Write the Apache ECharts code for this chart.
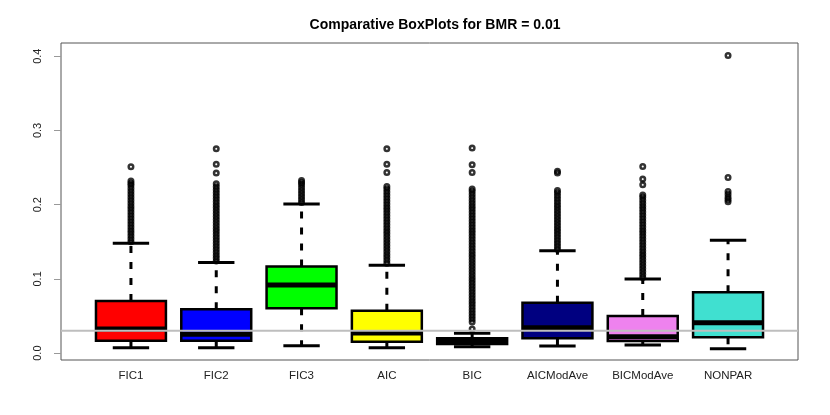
<!DOCTYPE html>
<html>
<head>
<meta charset="utf-8">
<script src="https://cdn.jsdelivr.net/npm/echarts@6/dist/echarts.min.js"></script>
<style>
  html, body { margin: 0; padding: 0; background: #fff; }
  #chart { width: 830px; height: 415px; }
</style>
</head>
<body>
<div id="chart"></div>
<script>
const categories = ['FIC1', 'FIC2', 'FIC3', 'AIC', 'BIC', 'AICModAve', 'BICModAve', 'NONPAR']
const whiskerLow = [0.0073, 0.0073, 0.010, 0.0073, 0.0086, 0.0096, 0.011, 0.006]
const q1 = [0.0168, 0.0168, 0.0604, 0.0154, 0.0123, 0.020, 0.0163, 0.0213]
const median = [0.0323, 0.0255, 0.0918, 0.0272, 0.016, 0.0343, 0.022, 0.041]
const q3 = [0.0703, 0.059, 0.1166, 0.0572, 0.020, 0.068, 0.050, 0.082]
const whiskerHigh = [0.148, 0.122, 0.201, 0.1184, 0.0267, 0.138, 0.100, 0.152]
const outliers = [
  [0.150, 0.154, 0.158, 0.162, 0.166, 0.170, 0.174, 0.178, 0.182, 0.186, 0.190, 0.194, 0.198, 0.202, 0.206, 0.210, 0.214, 0.218, 0.222, 0.226, 0.229, 0.232, 0.251],
  [0.124, 0.128, 0.132, 0.136, 0.140, 0.144, 0.148, 0.152, 0.156, 0.160, 0.164, 0.168, 0.172, 0.176, 0.180, 0.184, 0.188, 0.192, 0.196, 0.200, 0.204, 0.208, 0.212, 0.216, 0.220, 0.224, 0.228, 0.2425, 0.2545, 0.2752],
  [0.203, 0.207, 0.211, 0.215, 0.219, 0.223, 0.227, 0.230, 0.2325],
  [0.121, 0.125, 0.129, 0.133, 0.137, 0.141, 0.145, 0.149, 0.153, 0.157, 0.161, 0.165, 0.169, 0.173, 0.177, 0.181, 0.185, 0.189, 0.193, 0.197, 0.201, 0.205, 0.209, 0.213, 0.217, 0.221, 0.2244, 0.2433, 0.2546, 0.2752],
  [0.0325, 0.042, 0.046, 0.050, 0.054, 0.058, 0.062, 0.066, 0.070, 0.074, 0.078, 0.082, 0.086, 0.090, 0.094, 0.098, 0.102, 0.106, 0.110, 0.114, 0.118, 0.122, 0.126, 0.130, 0.134, 0.138, 0.142, 0.146, 0.150, 0.154, 0.158, 0.162, 0.166, 0.170, 0.174, 0.178, 0.182, 0.186, 0.190, 0.194, 0.198, 0.202, 0.206, 0.210, 0.214, 0.218, 0.221, 0.2433, 0.2537, 0.2762],
  [0.140, 0.144, 0.148, 0.152, 0.156, 0.160, 0.164, 0.168, 0.172, 0.176, 0.180, 0.184, 0.188, 0.192, 0.196, 0.200, 0.204, 0.208, 0.212, 0.216, 0.219, 0.2425, 0.245],
  [0.102, 0.106, 0.110, 0.114, 0.118, 0.122, 0.126, 0.130, 0.134, 0.138, 0.142, 0.146, 0.150, 0.154, 0.158, 0.162, 0.166, 0.170, 0.174, 0.178, 0.182, 0.186, 0.190, 0.194, 0.198, 0.202, 0.206, 0.210, 0.213, 0.2267, 0.2344, 0.2514],
  [0.204, 0.207, 0.210, 0.214, 0.2177, 0.2366, 0.401]
]
const refLevel = 0.03
const yTicks = [0, 0.1, 0.2, 0.3, 0.4]

const boxColors = ['#ff0000', '#0000ff', '#00ff00', '#ffff00', '#000000', '#000080', '#ee82ee', '#40e0d0']
const yMin = -0.0093, yMax = 0.4178
const font = 'Liberation Sans, Arial, sans-serif'

const boxData = categories.map((c, i) => [i, whiskerLow[i], q1[i], median[i], q3[i], whiskerHigh[i]])
const outlierData = []
outliers.forEach((list, i) => list.forEach(v => outlierData.push([i, v])))

function renderBox(params, api) {
  const i = api.value(0)
  const lo = api.coord([i, api.value(1)])
  const b = api.coord([i, api.value(2)])
  const m = api.coord([i, api.value(3)])
  const t = api.coord([i, api.value(4)])
  const hi = api.coord([i, api.value(5)])
  const half = api.size([1, 0])[0] * 0.41
  const cap = half * 0.52
  const cx = m[0]
  const dash = { stroke: '#000', lineWidth: 3, lineDash: [7, 9] }
  const solid = { stroke: '#000', lineWidth: 3 }
  return {
    type: 'group',
    children: [
      { type: 'line', shape: { x1: cx, y1: t[1], x2: cx, y2: hi[1] }, style: dash },
      { type: 'line', shape: { x1: cx, y1: b[1], x2: cx, y2: lo[1] }, style: dash },
      { type: 'line', shape: { x1: cx - cap, y1: hi[1], x2: cx + cap, y2: hi[1] }, style: solid },
      { type: 'line', shape: { x1: cx - cap, y1: lo[1], x2: cx + cap, y2: lo[1] }, style: solid },
      { type: 'rect', shape: { x: cx - half, y: t[1], width: half * 2, height: b[1] - t[1] },
        style: { fill: boxColors[params.dataIndex], stroke: '#000', lineWidth: 2.5 } },
      { type: 'line', shape: { x1: cx - half, y1: m[1], x2: cx + half, y2: m[1] }, style: { stroke: '#000', lineWidth: 5 } }
    ]
  }
}

const chart = echarts.init(document.getElementById('chart'))
chart.setOption({
  animation: false,
  backgroundColor: '#fff',
  title: {
    text: 'Comparative BoxPlots for BMR = 0.01',
    left: 430, top: 13, textAlign: 'center',
    textStyle: { fontFamily: font, fontSize: 14, fontWeight: 'bold', color: '#000' }
  },
  grid: [
    { left: 88.3, right: 59.3, top: 43, bottom: 55 },
    { left: 61, right: 32, top: 43, bottom: 55, show: true, borderColor: '#555', borderWidth: 1, backgroundColor: 'transparent' }
  ],
  xAxis: [
    {
      type: 'category', data: categories, gridIndex: 0,
      axisLine: { show: false },
      axisTick: { alignWithLabel: true, length: 5, lineStyle: { color: '#888' } },
      axisLabel: { fontFamily: font, fontSize: 11.5, color: '#222', margin: 10 },
      splitLine: { show: false }
    },
    { type: 'value', gridIndex: 1, min: 0, max: 1, show: false }
  ],
  yAxis: [
    { type: 'value', gridIndex: 0, min: yMin, max: yMax, show: false },
    {
      type: 'value', gridIndex: 1, min: yMin, max: yMax,
      axisLine: { show: false },
      axisTick: { show: true, length: 7, customValues: yTicks, lineStyle: { color: '#999' } },
      axisLabel: { customValues: yTicks, rotate: 90, fontFamily: font, fontSize: 11, color: '#222', margin: 18,
        formatter: v => v.toFixed(1) },
      splitLine: { show: false }
    }
  ],
  series: [
    { type: 'custom', xAxisIndex: 0, yAxisIndex: 0, data: boxData, renderItem: renderBox, z: 2 },
    {
      type: 'scatter', xAxisIndex: 0, yAxisIndex: 0, data: outlierData,
      symbol: 'circle', symbolSize: 4.5,
      itemStyle: { color: 'transparent', borderColor: '#000', borderWidth: 2.5 }, z: 3
    },
    {
      type: 'line', xAxisIndex: 1, yAxisIndex: 1, data: [[0, refLevel], [1, refLevel]],
      symbol: 'none', lineStyle: { color: '#bebebe', width: 2 }, z: 5
    }
  ]
})
</script>
</body>
</html>
